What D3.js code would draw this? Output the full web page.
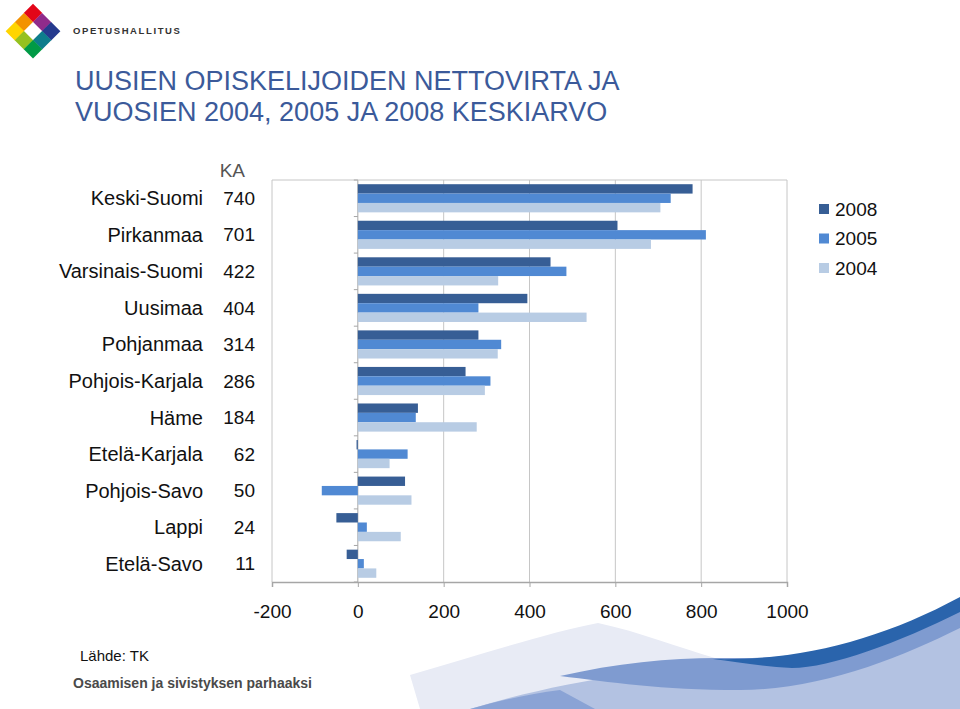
<!DOCTYPE html>
<html><head><meta charset="utf-8">
<script src="https://cdn.jsdelivr.net/npm/d3@7/dist/d3.min.js"></script>
<style>body{margin:0;background:#fff}svg{display:block}text{font-family:"Liberation Sans",Arial,sans-serif}</style>
</head><body><svg id="c" width="960" height="709"></svg>
<script>
const categories = ["Keski-Suomi","Pirkanmaa","Varsinais-Suomi","Uusimaa","Pohjanmaa","Pohjois-Karjala","Häme","Etelä-Karjala","Pohjois-Savo","Lappi","Etelä-Savo"];
const averages = [740,701,422,404,314,286,184,62,50,24,11];
const years = ["2008","2005","2004"];
const values2008 = [780,605,449,395,281,251,140,-3,110,-50,-26];
const values2005 = [729,811,486,281,334,309,135,116,-84,21,14];
const values2004 = [705,683,327,533,326,296,277,74,125,100,43];
const xTicks = [-200,0,200,400,600,800,1000];
const titleLines = ["UUSIEN OPISKELIJOIDEN NETTOVIRTA JA","VUOSIEN 2004, 2005 JA 2008 KESKIARVO"];
const colors = {"2008":"#375e95","2005":"#5089d3","2004":"#b8cce4"};
const series = {"2008":values2008,"2005":values2005,"2004":values2004};

const svg = d3.select("#c");

// footer decoration
const deco = svg.append("g");
deco.append("path").attr("fill","#e8ebf5").attr("d","M410,675 C480,655 550,632 598,623 C640,632 680,648 715,658 L715,709 L420,709 Z");
deco.append("path").attr("fill","#b3c2e2").attr("d","M470,709 C560,682 650,667 760,664 C850,661 920,640 960,606 L960,709 Z");
deco.append("path").attr("fill","#8aa3d5").attr("d","M470,709 C500,700 530,694 560,690 L595,709 Z");
deco.append("path").attr("fill","#7f9bd0").attr("d","M560,676 C620,662 680,657 730,658 C820,660 900,635 960,598 L960,628 C900,658 820,690 740,690 C660,690 610,682 560,676 Z");
deco.append("path").attr("fill","#2a64ac").attr("d","M713,659 C800,661 880,640 960,597 L960,612 C900,642 830,668 792,668 C760,666 735,662 713,659 Z");

// logo
const logoColors = [["#e30619","#8f2b8b","#253a8e"],["#f39200","#ffffff","#0d7d8c"],["#ffd500","#95c11f","#009a46"]];
const logo = svg.append("g").attr("transform","translate(33,31) rotate(45)");
const cs = 12.8;
logoColors.forEach((row,i)=>row.forEach((c,j)=>{
  logo.append("rect").attr("x",-1.5*cs+j*cs).attr("y",-1.5*cs+i*cs).attr("width",cs+0.3).attr("height",cs+0.3).attr("fill",c);
}));
svg.append("text").attr("x",73).attr("y",34).attr("font-size",9.5).attr("font-weight","bold").attr("letter-spacing",1.6).attr("fill","#333").text("OPETUSHALLITUS");

// title
svg.append("g").selectAll("text").data(titleLines).join("text")
  .attr("x",75).attr("y",(d,i)=>90+i*31).attr("font-size",27).attr("fill","#3b5a9a").text(d=>d);

// scales
const x = d3.scaleLinear().domain([-200,1000]).range([272,787]);
const y = d3.scaleBand().domain(categories).range([180,582]).paddingInner(0.23).paddingOuter(0.115);
const yy = d3.scaleBand().domain(years).range([0,y.bandwidth()]);
const step = y.step();

// plot frame + grid
const grid = svg.append("g");
grid.selectAll("line.g").data(xTicks).join("line").attr("class","g")
  .attr("x1",d=>x(d)).attr("x2",d=>x(d)).attr("y1",180).attr("y2",582)
  .attr("stroke",d=>d===0?"#a6a6a6":"#c6c6c6").attr("stroke-width",1);
grid.append("line").attr("x1",272).attr("x2",787).attr("y1",180).attr("y2",180).attr("stroke","#c6c6c6");

// category ticks on zero axis
grid.selectAll("line.ct").data(d3.range(categories.length+1)).join("line").attr("class","ct")
  .attr("x1",x(0)-4).attr("x2",x(0)).attr("y1",i=>180+i*step).attr("y2",i=>180+i*step).attr("stroke","#a6a6a6");

// x axis
const xAxis = d3.axisBottom(x).tickValues(xTicks).tickSize(5).tickPadding(18).tickFormat(d=>String(d));
const ax = svg.append("g").attr("transform","translate(0,582)").call(xAxis);
ax.select(".domain").attr("stroke","#a6a6a6").attr("stroke-width",1.5);
ax.selectAll(".tick line").attr("stroke","#a6a6a6");
ax.selectAll(".tick text").attr("font-size",19).attr("fill","#111").attr("font-family","Liberation Sans, Arial, sans-serif");

// bars
years.forEach(yr=>{
  svg.append("g").selectAll("rect").data(categories).join("rect")
    .attr("x",(c,i)=>x(Math.min(0,series[yr][i])))
    .attr("width",(c,i)=>Math.abs(x(series[yr][i])-x(0)))
    .attr("y",c=>y(c)+yy(yr))
    .attr("height",yy.bandwidth())
    .attr("fill",colors[yr]);
});

// labels
svg.append("text").attr("x",245).attr("y",177).attr("text-anchor","end").attr("font-size",19).attr("fill","#555").text("KA");
svg.append("g").selectAll("text").data(categories).join("text")
  .attr("x",203).attr("y",c=>y(c)+y.bandwidth()/2).attr("dy","0.35em").attr("text-anchor","end")
  .attr("font-size",20).attr("fill","#111").text(d=>d);
svg.append("g").selectAll("text").data(averages).join("text")
  .attr("x",255).attr("y",(d,i)=>y(categories[i])+y.bandwidth()/2).attr("dy","0.35em").attr("text-anchor","end")
  .attr("font-size",19).attr("fill","#111").text(d=>d);

// legend
const lg = svg.append("g").selectAll("g").data(years).join("g").attr("transform",(d,i)=>`translate(819,${209+i*29.5})`);
lg.append("rect").attr("x",0).attr("y",-5).attr("width",10).attr("height",10).attr("fill",d=>colors[d]);
lg.append("text").attr("x",16).attr("y",0).attr("dy","0.35em").attr("font-size",19).attr("fill","#111").text(d=>d);

// footer text
svg.append("text").attr("x",80).attr("y",661).attr("font-size",15).attr("fill","#111").text("Lähde: TK");
svg.append("text").attr("x",73).attr("y",688).attr("font-size",14).attr("font-weight","bold").attr("fill","#4a4a4a")
  .attr("font-family","Lato, sans-serif").text("Osaamisen ja sivistyksen parhaaksi");
</script></body></html>
